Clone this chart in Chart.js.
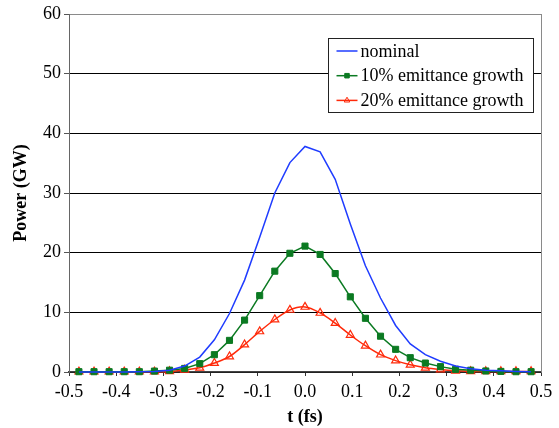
<!DOCTYPE html>
<html>
<head>
<meta charset="utf-8">
<script src="https://cdn.jsdelivr.net/npm/chart.js@4.4.0/dist/chart.umd.min.js"></script>
<style>
  html, body { margin: 0; padding: 0; background: #fff; }
</style>
</head>
<body>
<canvas id="power-chart" width="559" height="428"></canvas>
<script>
// time axis (fs), one entry per sample
var timeValues = [-0.479, -0.447, -0.415, -0.383, -0.351, -0.319, -0.287, -0.255, -0.223, -0.192,
  -0.160, -0.128, -0.096, -0.064, -0.032, 0, 0.032, 0.064, 0.096, 0.128,
  0.160, 0.192, 0.223, 0.255, 0.287, 0.319, 0.351, 0.383, 0.415, 0.447, 0.479];

// power in GW
var nominalPower = [0, 0, 0, 0, 0.05, 0.1, 0.3, 1.0, 2.5, 5.4,
  9.8, 15.4, 22.6, 30.0, 35.1, 37.8, 36.9, 32.3, 24.8, 17.8,
  12.4, 7.8, 4.7, 2.9, 1.8, 1.0, 0.55, 0.3, 0.2, 0.1, 0.05];
var growth10Power = [0.05, 0.05, 0.05, 0.05, 0.05, 0.15, 0.3, 0.6, 1.4, 2.9,
  5.3, 8.7, 12.8, 16.9, 19.9, 21.1, 19.7, 16.5, 12.6, 9.0,
  6.0, 3.8, 2.4, 1.5, 0.9, 0.45, 0.3, 0.17, 0.1, 0.05, 0.05];
var growth20Power = [0.05, 0.05, 0.05, 0.05, 0.05, 0.05, 0.1, 0.35, 0.7, 1.5,
  2.6, 4.6, 6.8, 8.8, 10.4, 10.9, 9.9, 8.2, 6.2, 4.4,
  2.9, 1.9, 1.2, 0.7, 0.4, 0.2, 0.1, 0.1, 0.1, 0.1, 0.1];

var seriesLabels = ['nominal', '10% emittance growth', '20% emittance growth'];
var xTicks = [-0.5, -0.4, -0.3, -0.2, -0.1, 0.0, 0.1, 0.2, 0.3, 0.4, 0.5];
var yTicks = [0, 10, 20, 30, 40, 50, 60];

// unquoted family names
var fontFam = 'Liberation Serif, Times New Roman, Tinos';
Chart.defaults.font.family = fontFam;
Chart.defaults.font.size = 18;
Chart.defaults.color = '#000';

function toPoints(values) {
  var pts = [];
  for (var i = 0; i < timeValues.length; i++) {
    pts.push({ x: timeValues[i], y: values[i] });
  }
  return pts;
}

// gray frame on the right of the plot area
var frameLines = {
  id: 'frameLines',
  beforeDatasetsDraw: function (chart) {
    var a = chart.chartArea;
    var ctx = chart.ctx;
    ctx.save();
    ctx.strokeStyle = '#8a8a8a';
    ctx.lineWidth = 1;
    ctx.beginPath();
    ctx.moveTo(Math.round(a.right) + 0.5, a.top);
    ctx.lineTo(Math.round(a.right) + 0.5, a.bottom);
    ctx.stroke();
    ctx.restore();
  }
};

// boxed legend sitting inside the plot area
var boxLegend = {
  id: 'boxLegend',
  afterDatasetsDraw: function (chart) {
    var a = chart.chartArea;
    var ctx = chart.ctx;
    var bx = a.right - 212.5, by = a.top + 24.5, bw = 205, bh = 74;
    ctx.save();
    ctx.fillStyle = '#fff';
    ctx.fillRect(bx, by, bw, bh);
    ctx.strokeStyle = '#222';
    ctx.lineWidth = 1;
    ctx.strokeRect(bx, by, bw, bh);
    ctx.font = '18px ' + fontFam;
    ctx.textBaseline = 'middle';
    ctx.textAlign = 'left';
    for (var i = 0; i < chart.data.datasets.length; i++) {
      var ds = chart.data.datasets[i];
      var ly = by + 12.5 + i * 24.7;
      ctx.strokeStyle = ds.borderColor;
      ctx.lineWidth = 1.5;
      ctx.beginPath();
      ctx.moveTo(bx + 8, ly);
      ctx.lineTo(bx + 29, ly);
      ctx.stroke();
      if (ds.pointRadius > 0) {
        ctx.fillStyle = ds.pointBackgroundColor;
        ctx.strokeStyle = ds.borderColor;
        ctx.lineWidth = 1;
        Chart.helpers.drawPoint(ctx, {
          pointStyle: ds.pointStyle,
          radius: 3.2,
          rotation: 0,
          borderWidth: 1
        }, bx + 18.5, ly);
      }
      ctx.fillStyle = '#000';
      ctx.fillText(ds.label, bx + 32, ly + 1);
    }
    ctx.restore();
  }
};

var ctxChart = document.getElementById('power-chart').getContext('2d');
var powerChart = new Chart(ctxChart, {
  type: 'line',
  data: {
    datasets: [
      {
        label: seriesLabels[0],
        data: toPoints(nominalPower),
        borderColor: '#1f3cff',
        borderWidth: 1.5,
        pointRadius: 0,
        tension: 0,
        clip: false
      },
      {
        label: seriesLabels[1],
        data: toPoints(growth10Power),
        borderColor: '#0b7a22',
        backgroundColor: '#0b7a22',
        pointBackgroundColor: '#0b7a22',
        borderWidth: 1.5,
        pointStyle: 'rect',
        pointRadius: 4.3,
        pointBorderWidth: 1,
        tension: 0,
        clip: false
      },
      {
        label: seriesLabels[2],
        data: toPoints(growth20Power),
        borderColor: '#ff2a0a',
        backgroundColor: 'rgba(0,0,0,0)',
        pointBackgroundColor: 'rgba(0,0,0,0)',
        borderWidth: 1.5,
        pointStyle: 'triangle',
        pointRadius: 4.6,
        pointBorderWidth: 1.2,
        tension: 0.35,
        clip: false
      }
    ]
  },
  options: {
    responsive: false,
    animation: false,
    layout: { padding: { left: 0, right: 18, top: 14, bottom: 0 } },
    plugins: {
      legend: { display: false },
      tooltip: { enabled: false }
    },
    scales: {
      x: {
        type: 'linear',
        min: -0.5,
        max: 0.5,
        afterBuildTicks: function (scale) {
          scale.ticks = xTicks.map(function (v) { return { value: v }; });
        },
        afterFit: function (scale) { scale.height = 56; },
        grid: {
          drawOnChartArea: false,
          drawTicks: true,
          tickLength: 4,
          color: '#333',
          tickColor: '#333'
        },
        border: { display: true, color: '#444', width: 1.5 },
        ticks: {
          color: '#000',
          padding: 5,
          font: { family: fontFam, size: 18 },
          callback: function (v) { return Math.abs(v) < 1e-9 ? '0.0' : Number(v).toFixed(1); }
        },
        title: {
          display: true,
          text: 't (fs)',
          color: '#000',
          font: { family: fontFam, size: 18, weight: 'bold' },
          padding: { top: 0, bottom: 0 }
        }
      },
      y: {
        min: 0,
        max: 60,
        afterBuildTicks: function (scale) {
          scale.ticks = yTicks.map(function (v) { return { value: v }; });
        },
        afterFit: function (scale) { scale.width = 69; },
        grid: {
          drawTicks: true,
          tickLength: 5,
          color: function (c) {
            if (c.tick && c.tick.value === 60) return '#8a8a8a';
            return '#000';
          },
          tickColor: '#555'
        },
        border: { display: true, color: '#666', width: 1 },
        ticks: {
          color: '#000',
          padding: 3,
          font: { family: fontFam, size: 18 }
        },
        title: {
          display: true,
          text: 'Power (GW)',
          color: '#000',
          font: { family: fontFam, size: 18, weight: 'bold' },
          padding: { top: 11, bottom: 0 }
        }
      }
    }
  },
  plugins: [frameLines, boxLegend]
});
</script>
</body>
</html>
